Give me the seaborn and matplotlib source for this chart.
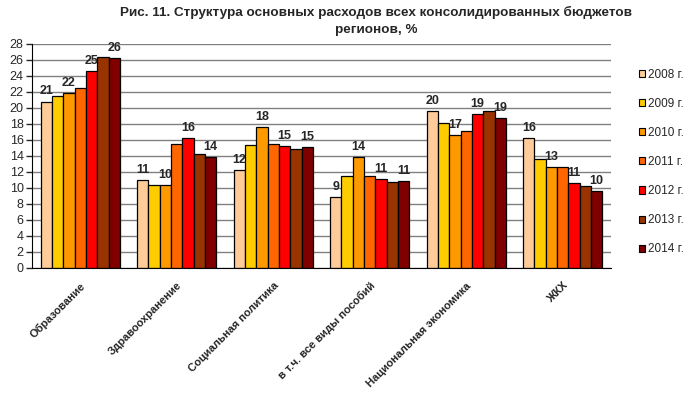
import numpy as np
import pandas as pd
import matplotlib
matplotlib.use("Agg")
import matplotlib.pyplot as plt
import seaborn as sb

# categories and years
categories = ["Образование", "Здравоохранение", "Социальная политика",
              "в т.ч. все виды пособий", "Национальная экономика", "ЖКХ"]
years = ["2008 г.", "2009 г.", "2010 г.", "2011 г.", "2012 г.", "2013 г.", "2014 г."]

# values per year, one value per category
v2008 = [20.8, 11.0, 12.2, 8.9, 19.6, 16.2]
v2009 = [21.5, 10.4, 15.4, 11.5, 18.1, 13.6]
v2010 = [21.9, 10.4, 17.6, 13.9, 16.6, 12.6]
v2011 = [22.5, 15.5, 15.5, 11.5, 17.1, 12.6]
v2012 = [24.6, 16.2, 15.2, 11.1, 19.2, 10.6]
v2013 = [26.4, 14.2, 14.9, 10.7, 19.6, 10.2]
v2014 = [26.2, 13.9, 15.1, 10.9, 18.7, 9.6]

colors = ["#FFCC99", "#FFCC00", "#FF9900", "#FF6600", "#FF0000", "#993300", "#800000"]

rows = []
for yr, vals in zip(years, [v2008, v2009, v2010, v2011, v2012, v2013, v2014]):
    for cat, v in zip(categories, vals):
        rows.append({"cat": cat, "year": yr, "val": v})
df = pd.DataFrame(rows)

sb.set_style("white")
plt.rcParams['font.family'] = ['Liberation Sans', 'DejaVu Sans']

fig = plt.figure(figsize=(6.91, 3.98), dpi=100)
ax = fig.add_axes([32/691, 1-268/398, (611-32)/691, (268-44)/398])

sb.barplot(data=df, x="cat", y="val", hue="year", order=categories, hue_order=years,
           palette=colors, saturation=1, edgecolor="black", linewidth=0.9,
           width=0.82, gap=0, ax=ax, legend=True)

# labels only on every second year, like the original
for i, cont in enumerate(ax.containers):
    if i % 2 == 0:
        ax.bar_label(cont, labels=["%d" % int(b.get_height() + 0.5) for b in cont],
                     padding=3, fontsize=9, fontweight="bold")

ax.set_ylim(0, 28)
ax.set_yticks(range(0, 29, 2))
ax.yaxis.grid(True, color="#808080", linewidth=1)
ax.set_axisbelow(True)
ax.set_xlim(-0.5, len(categories) - 0.5)
for s in ["top", "right"]:
    ax.spines[s].set_visible(False)
ax.spines["left"].set_color("black")
ax.spines["bottom"].set_color("black")
ax.tick_params(axis="y", length=4, width=1, labelsize=9, left=True, pad=2)
ax.tick_params(axis="x", length=0, labelsize=8, pad=9)
plt.setp(ax.get_xticklabels(), rotation=45, ha="right", rotation_mode="anchor",
         fontweight="bold")
ax.set_xlabel("")
ax.set_ylabel("")

leg = ax.legend(loc="upper left", bbox_to_anchor=(634/691, 1-64/398),
                bbox_transform=fig.transFigure, frameon=False, fontsize=8.5,
                handlelength=0.55, handleheight=0.55, handletextpad=0.25,
                labelspacing=1.45, borderaxespad=0)
for h in leg.legend_handles:
    h.set_edgecolor("black")
    h.set_linewidth(0.8)

fig.text(376/691, 1-12/398,
         "Рис. 11. Структура основных расходов всех консолидированных бюджетов",
         ha="center", va="center", fontsize=9.7, fontweight="bold")
fig.text(376/691, 1-30/398, "регионов, %",
         ha="center", va="center", fontsize=9.7, fontweight="bold")

fig.savefig("out.png", dpi=100)
